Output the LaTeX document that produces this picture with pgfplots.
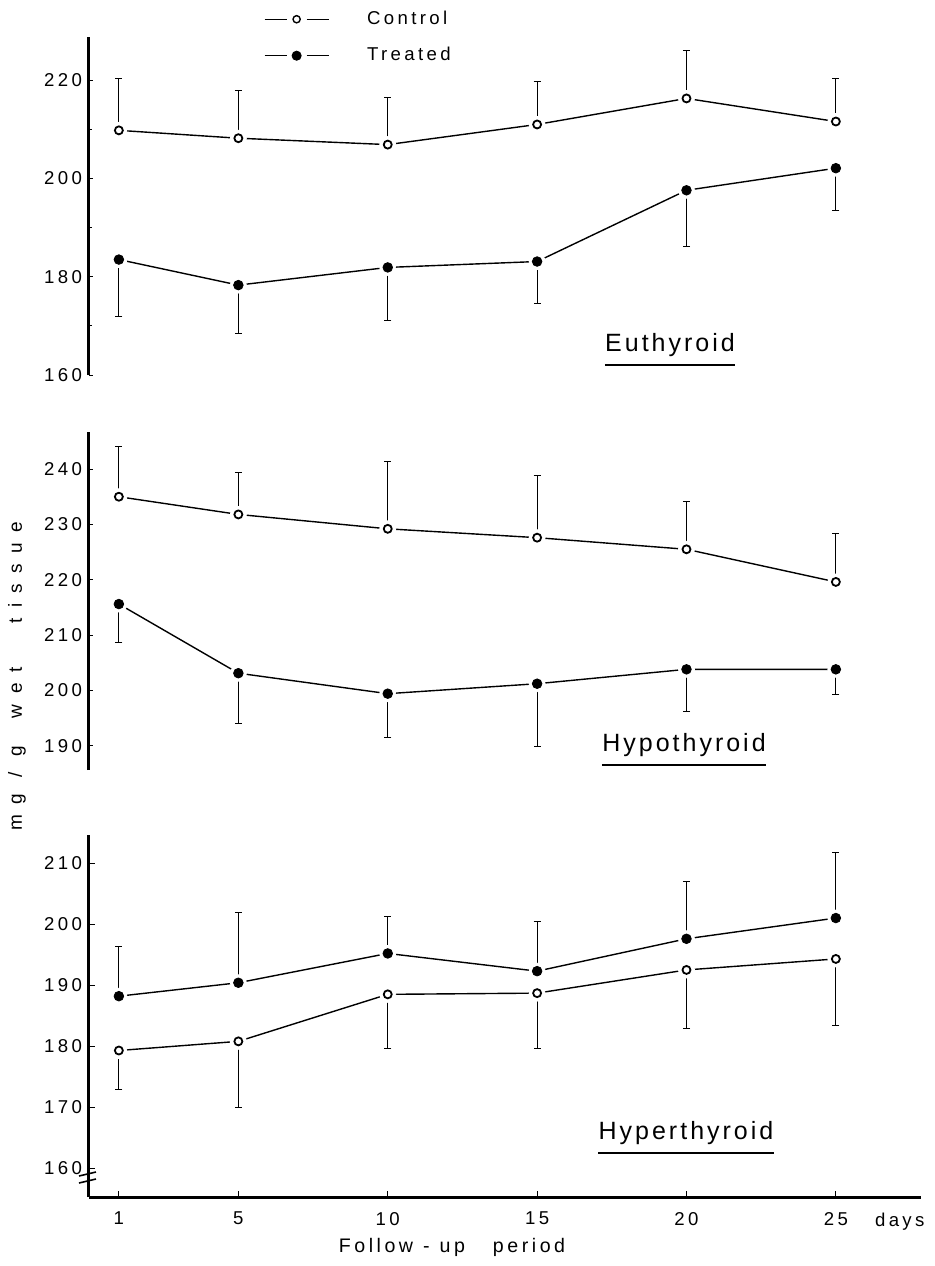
\documentclass[border=0pt]{standalone}
\usepackage{fontspec}
\setmainfont{Liberation Sans}[LetterSpace=18]
\newfontfamily\labfont{Liberation Sans}[LetterSpace=12]
\newfontfamily\widefont{Liberation Sans}[LetterSpace=55]
\usepackage{pgfplots}
\usepackage{pgfplotstable}
\pgfplotsset{compat=1.18}

\pgfplotstableread{
x c ce t te
1 209.8 10.6 183.5 11.5
5 208.2 9.8 178.3 9.8
10 206.9 9.5 181.9 10.9
15 211.0 8.7 183.1 8.5
20 216.3 9.7 197.6 11.4
25 211.6 8.8 202.1 8.6
}\euthyroid

\pgfplotstableread{
x c ce t te
1 235.0 9.0 215.6 7.0
5 231.8 7.5 203.1 9.1
10 229.2 12.1 199.4 8.0
15 227.6 11.3 201.2 11.4
20 225.5 8.6 203.8 7.7
25 219.6 8.8 203.8 4.5
}\hypothyroid

\pgfplotstableread{
x c ce t te
1 179.3 6.4 188.2 8.1
5 180.8 10.9 190.4 11.5
10 188.5 8.8 195.2 6.0
15 188.7 9.0 192.3 8.1
20 192.5 9.6 197.6 9.4
25 194.3 10.9 201.0 10.7
}\hyperthyroid

\pgfplotsset{
  panel/.style={
    scale only axis, width=416pt, anchor=south west,
    xmin=0, xmax=27.85,
    axis y line*=left,
    axis line style={-, line width=1.5pt},
    tick align=inside, major tick length=2pt, minor tick length=1.5pt,
    tick style={line width=0.4pt, black},
    yticklabel style={font=\fontsize{9.3}{10}\selectfont},
    /pgf/number format/assume math mode=true,
    clip=false,
  },
  ebar/.style={draw=none, forget plot, error bars/.cd, y dir=#1, y explicit,
    error bar style={draw=black, line width=0.5pt},
    error mark options={rotate=90, mark size=1.8pt, line width=0.5pt, black}},
  ctrl/.style={only marks, mark=o, mark size=2pt, mark options={fill=white, line width=0.9pt}, forget plot},
  trt/.style={only marks, mark=*, mark size=2.4pt, forget plot},
  halo/.style={only marks, mark=*, mark size=4pt, white, forget plot},
  ln/.style={line width=0.7pt, black, forget plot, mark=none},
}

\newcommand\series[3]{%
  \addplot[ln] table[x=x,y=c]{#1};
  \addplot[ln] table[x=x,y=t]{#1};
  \addplot[halo] table[x=x,y=c]{#1};
  \addplot[halo] table[x=x,y=t]{#1};
  \addplot[ebar=#2] table[x=x,y=c,y error=ce]{#1};
  \addplot[ebar=#3] table[x=x,y=t,y error=te]{#1};
  \addplot[ctrl] table[x=x,y=c]{#1};
  \addplot[trt] table[x=x,y=t]{#1};
}

\begin{document}
\begin{tikzpicture}
\path[use as bounding box] (0pt,0pt) rectangle (467pt,-633pt);

% Euthyroid
\begin{axis}[panel, at={(44.5pt,-187.5pt)}, height=169pt,
  ymin=160, ymax=228.8, axis x line=none, xtick=\empty,
  ytick={160,180,200,220}, minor ytick={170,190,210},
  legend style={at={(0.21,1.09)}, anchor=north west, draw=none, fill=none,
    inner sep=0pt, row sep=6pt, column sep=17pt,
    font=\fontsize{9.3}{10}\selectfont},
  legend cell align=left,
  legend image code/.code={%
    \draw[#1, mark=none, line width=0.5pt] (0pt,0pt) -- (11pt,0pt);
    \draw[#1, mark=none, line width=0.5pt] (21pt,0pt) -- (32pt,0pt);
    \draw[#1] plot coordinates {(16pt,0pt)};}
]
\addlegendimage{black, mark=o, mark size=1.8pt, mark options={fill=white, line width=0.7pt}}
\addlegendentry{Control}
\addlegendimage{black, mark=*, mark size=2.3pt}
\addlegendentry{Treated}
\series{\euthyroid}{plus}{minus}
\end{axis}

% Hypothyroid
\begin{axis}[panel, at={(44.5pt,-385pt)}, height=169pt,
  ymin=185.6, ymax=246.7, axis x line=none, xtick=\empty,
  ytick={190,200,...,240}]
\series{\hypothyroid}{plus}{minus}
\end{axis}

% Hyperthyroid
\begin{axis}[panel, at={(44.5pt,-598.5pt)}, height=181pt,
  ymin=155.3, ymax=214.6, axis x line*=bottom,
  xtick={1,5,10,15,20,25}, major tick length=3pt,
  xticklabel style={font=\fontsize{9.3}{10}\selectfont, yshift=-4pt},
  ytick={160,170,...,210}]
\series{\hyperthyroid}{minus}{plus}
\end{axis}

% panel labels
\node[font=\labfont\fontsize{12.5}{14}\selectfont, inner sep=0pt] (e) at (335pt,-172.5pt) {Euthyroid};
\draw[line width=1pt] ([yshift=-4pt]e.south west) -- ([yshift=-4pt]e.south east);
\node[font=\labfont\fontsize{12.5}{14}\selectfont, inner sep=0pt] (h) at (342pt,-372.5pt) {Hypothyroid};
\draw[line width=1pt] ([yshift=-4pt]h.south west) -- ([yshift=-4pt]h.south east);
\node[font=\labfont\fontsize{12.5}{14}\selectfont, inner sep=0pt] (r) at (343pt,-566.5pt) {Hyperthyroid};
\draw[line width=1pt] ([yshift=-4pt]r.south west) -- ([yshift=-4pt]r.south east);

% axis titles
\node[rotate=90, font=\widefont\fontsize{9.5}{11}\selectfont] at (8.5pt,-338pt)
  {mg / g\hspace{14pt}wet\hspace{22pt}tissue};
\node[font=\fontsize{9.8}{11}\selectfont] at (226pt,-623.5pt)
  {Follow\hspace{5pt}-\hspace{5pt}up\hspace{14pt}period};
\node[font=\fontsize{9.3}{10}\selectfont, anchor=west] at (434pt,-611pt) {days};

% axis break marks
\draw[line width=0.8pt] (39.5pt,-588pt) -- (48pt,-586pt);
\draw[line width=0.8pt] (39.5pt,-591.5pt) -- (48pt,-589.5pt);
\end{tikzpicture}
\end{document}
